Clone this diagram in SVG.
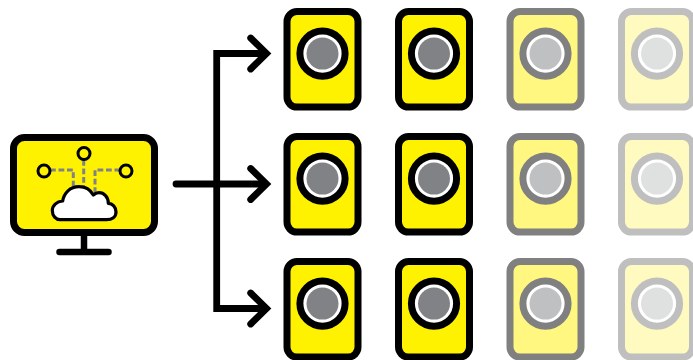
<svg xmlns="http://www.w3.org/2000/svg" width="693" height="360" viewBox="0 0 693 360">
<defs>
<style>
.c{fill:none;stroke:#000;stroke-width:6.800;stroke-linecap:round}
.d{fill:none;stroke:#808285;stroke-width:3;stroke-dasharray:5.800 2.700}
.n{fill:#fff200;stroke:#000;stroke-width:3}
</style>
<g id="card">
<rect x="-35.500" y="-41.700" width="71" height="95.500" rx="10" stroke="var(--s)" stroke-width="7" fill="var(--f)"/>
<circle cy="0.300" r="22.600" fill="#fff" stroke="var(--s)" stroke-width="7"/>
<circle cy="0.300" r="16" fill="var(--g)"/>
</g>
</defs>
<rect width="693" height="360" fill="#fff"/>
<g id="connectors">
<path class="c" d="M176 184H264"/>
<path class="c" d="M264 53.500H216.700V308.500H264" style="stroke-linecap:butt"/>
<path class="c" d="M250.700 38L266.500 53.500L250.700 69"/>
<path class="c" d="M250.700 168.500L266.500 184L250.700 199.500"/>
<path class="c" d="M250.700 293L266.500 308.500L250.700 324"/>
</g>
<g id="monitor">
<rect x="13.500" y="137.500" width="141" height="95" rx="11" fill="#fff200" stroke="#000" stroke-width="7"/>
<path d="M84 236V252" fill="none" stroke="#000" stroke-width="6.500"/>
<path d="M59.500 252H108.500" fill="none" stroke="#000" stroke-width="6.500" stroke-linecap="round"/>
<path class="d" d="M50 170H73.300V190"/>
<path class="d" d="M83.700 160V187"/>
<path class="d" d="M95 193V170H119"/>
<circle class="n" cx="44" cy="171" r="6"/>
<circle class="n" cx="84" cy="153.500" r="6"/>
<circle class="n" cx="126" cy="171" r="6"/>
<path d="M60 219.700H106.700C112 219.700 116 217 116 212C116 207 112.500 203.500 108.300 203.300C108.300 197 104 192.700 99 192.700C97 192.700 95 193.500 93.300 195C90.500 190 85 186.700 79 186.700C70 186.700 64 193 62.700 201C56.500 201.500 52.300 205.500 52.300 210.500C52.300 216 56 219.700 60 219.700Z" fill="#fff" stroke="#000" stroke-width="3.200" stroke-linejoin="round"/>
</g>
<g id="n-1-1" style="--s:#000;--f:#fff200;--g:#808285"><use href="#card" x="322.500" y="53.300"/></g>
<g id="n-1-2" style="--s:#000;--f:#fff200;--g:#808285"><use href="#card" x="434" y="53.300"/></g>
<g id="n-1-3" style="--s:#808080;--f:#fff77f;--g:#bfc0c2"><use href="#card" x="545.500" y="53.300"/></g>
<g id="n-1-4" style="--s:#bfbfbf;--f:#fffabf;--g:#dfe0e0"><use href="#card" x="657" y="53.300"/></g>
<g id="n-2-1" style="--s:#000;--f:#fff200;--g:#808285"><use href="#card" x="322.500" y="178.300"/></g>
<g id="n-2-2" style="--s:#000;--f:#fff200;--g:#808285"><use href="#card" x="434" y="178.300"/></g>
<g id="n-2-3" style="--s:#808080;--f:#fff77f;--g:#bfc0c2"><use href="#card" x="545.500" y="178.300"/></g>
<g id="n-2-4" style="--s:#bfbfbf;--f:#fffabf;--g:#dfe0e0"><use href="#card" x="657" y="178.300"/></g>
<g id="n-3-1" style="--s:#000;--f:#fff200;--g:#808285"><use href="#card" x="322.500" y="303.300"/></g>
<g id="n-3-2" style="--s:#000;--f:#fff200;--g:#808285"><use href="#card" x="434" y="303.300"/></g>
<g id="n-3-3" style="--s:#808080;--f:#fff77f;--g:#bfc0c2"><use href="#card" x="545.500" y="303.300"/></g>
<g id="n-3-4" style="--s:#bfbfbf;--f:#fffabf;--g:#dfe0e0"><use href="#card" x="657" y="303.300"/></g>
</svg>
